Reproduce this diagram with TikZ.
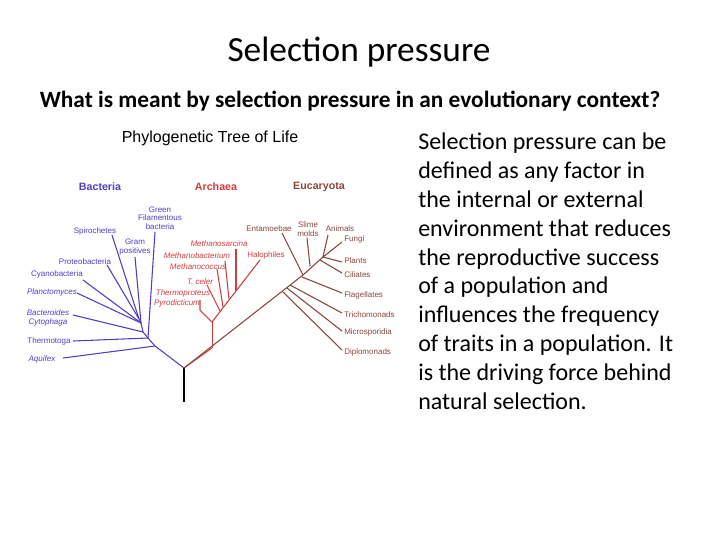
\documentclass[tikz,border=0pt]{standalone}
\usepackage{fontspec}
\setmainfont{Carlito}
\newfontfamily\arialf{Liberation Sans}
\begin{document}
\begin{tikzpicture}[x=0.75pt,y=-0.75pt,
  lab/.style={inner sep=0pt,font=\arialf\fontsize{6pt}{6.4pt}\selectfont,align=center},
  bac/.style={draw=bcol,line width=0.8pt},
  arc/.style={draw=acol,line width=0.8pt},
  euk/.style={draw=ecol,line width=0.8pt}]
\definecolor{bcol}{RGB}{80,60,200}
\definecolor{acol}{RGB}{210,60,60}
\definecolor{ecol}{RGB}{135,70,60}
\useasboundingbox (0,0) rectangle (720,540);
\node (title) at (359,52) {\fontsize{26.5pt}{30pt}\selectfont Selection pressure};
\node (sub) at (350,101) {\fontsize{17.5pt}{20pt}\selectfont\bfseries What is meant by selection pressure in an evolutionary context?};
\node[anchor=north west,inner sep=0pt,align=left,font=\fontsize{18pt}{21.6pt}\selectfont] (body) at (418,133) {Selection pressure can be\\defined as any factor in\\the internal or external\\environment that reduces\\the reproductive success\\of a population and\\influences the frequency\\of traits in a population. It\\is the driving force behind\\natural selection.};
% tree title
\node (tt) at (210,138) {\arialf\fontsize{12pt}{14pt}\selectfont Phylogenetic Tree of Life};
\node[text=bcol] (db) at (100,187) {\arialf\bfseries\fontsize{8pt}{9pt}\selectfont Bacteria};
\node[text=acol] (da) at (216,187) {\arialf\bfseries\fontsize{8pt}{9pt}\selectfont Archaea};
\node[text=ecol] (de) at (319,187) {\arialf\bfseries\fontsize{8pt}{9pt}\selectfont Eucaryota};
% coordinates
\coordinate (root) at (184,368); \coordinate (rootb) at (184,402);
\coordinate (b1) at (155,346); \coordinate (b2) at (148,338);
\coordinate (a1) at (212,348); \coordinate (a2) at (212,322); \coordinate (ah) at (260,260);
\coordinate (e1) at (303,275); \coordinate (e2) at (323,257);
\draw[line width=0.8pt] (root) -- (rootb);
% bacteria
\draw[bac] (root) -- (b1) -- (b2);
\coordinate (bq) at (63,358); \draw[bac] (b1) -- (bq);
\coordinate (bt) at (73,341); \draw[bac] (b2) -- (bt);
\coordinate (bbx) at (73,315); \coordinate (bbh) at (143,332); \draw[bac] (b2) -- (bbh) -- (bbx);
\coordinate (bp) at (77,293); \coordinate (bph) at (141,323); \draw[bac] (bbh) -- (bph) -- (bp);
\coordinate (bc) at (83,280); \draw[bac] (bph) -- (bc);
\coordinate (bpr) at (107,265); \coordinate (bprh) at (139,319); \draw[bac] (bph) -- (bprh) -- (bpr);
\coordinate (bs) at (112,235); \draw[bac] (bprh) -- (bs);
\coordinate (bg) at (135,257); \draw[bac] (bph) -- (bg);
\coordinate (bgf) at (155,232); \draw[bac] (b2) -- (bgf);
\node[lab,text=bcol] (lbs) at (95,231) {Spirochetes};
\node[lab,text=bcol] (lbgf) at (160,218) {Green\\Filamentous\\bacteria};
\node[lab,text=bcol] (lbg) at (135,247) {Gram\\positives};
\node[lab,text=bcol] (lbpr) at (85,262) {Proteobacteria};
\node[lab,text=bcol] (lbc) at (57,274) {Cyanobacteria};
\node[lab,text=bcol] (lbp) at (52,292) {\itshape Planctomyces};
\node[lab,text=bcol] (lbb) at (48,318) {\itshape Bacteroides\\\itshape Cytophaga};
\node[lab,text=bcol] (lbt) at (49,341) {Thermotoga};
\node[lab,text=bcol] (lbq) at (42,359) {\itshape Aquifex};
% archaea
\draw[arc] (root) -- (a1);
\draw[acol,line width=0.5pt] (a1) -- (a2);
\coordinate (ap) at (200,310); \coordinate (apt) at (200,300); \draw[arc] (a2) -- (ap) -- (apt);
\draw[arc] (a2) -- (ah);
\coordinate (atc0) at (220,311); \coordinate (atc) at (207,285); \draw[arc] (atc0) -- (atc);
\coordinate (amc0) at (223,307); \coordinate (amc) at (217,269); \draw[arc] (amc0) -- (amc);
\coordinate (amb0) at (229,299); \coordinate (amb) at (225,261); \draw[arc] (amb0) -- (amb);
\coordinate (ams0) at (236,291); \coordinate (ams) at (236,249); \draw[arc] (ams0) -- (ams);
\node[lab,text=acol] (las) at (219,244) {\itshape Methanosarcina};
\node[lab,text=acol] (lab1) at (197,256) {\itshape Methanobacterium};
\node[lab,text=acol] (lac) at (198,267) {\itshape Methanococcus};
\node[lab,text=acol] (lat) at (200,282) {\itshape T. celer};
\node[lab,text=acol] (latp) at (183,293) {\itshape Thermoproteus};
\node[lab,text=acol] (lapy) at (177,303) {\itshape Pyrodicticum};
\node[lab,text=acol] (lah) at (266,255) {Halophiles};
% eukaryota
\draw[euk] (root) -- (e1) -- (e2);
\coordinate (ed0) at (283,292); \coordinate (ed) at (342,350); \draw[euk] (ed0) -- (ed);
\coordinate (em0) at (287,288); \coordinate (em) at (342,331); \draw[euk] (em0) -- (em);
\coordinate (etr0) at (290,285); \coordinate (etr) at (342,313); \draw[euk] (etr0) -- (etr);
\coordinate (ef0) at (302,277); \coordinate (ef) at (342,293); \draw[euk] (ef0) -- (ef);
\coordinate (ec0) at (320,260); \coordinate (ec) at (342,273); \draw[euk] (ec0) -- (ec);
\coordinate (epl) at (342,262); \draw[euk] (e2) -- (epl);
\coordinate (efu) at (342,242); \draw[euk] (e2) -- (efu);
\coordinate (ean) at (328,235); \draw[euk] (e2) -- (ean);
\coordinate (es0) at (310,266); \coordinate (esm) at (307,238); \draw[euk] (es0) -- (esm);
\coordinate (een) at (282,233); \draw[euk] (e1) -- (een);
\node[lab,text=ecol] (len) at (269,229) {Entamoebae};
\node[lab,text=ecol] (lsm) at (308,229) {Slime\\molds};
\node[lab,text=ecol] (lan) at (340,229) {Animals};
\node[lab,text=ecol,anchor=west] (lfu) at (344,239) {Fungi};
\node[lab,text=ecol,anchor=west] (lpl) at (344,261) {Plants};
\node[lab,text=ecol,anchor=west] (lci) at (344,275) {Ciliates};
\node[lab,text=ecol,anchor=west] (lfl) at (344,295) {Flagellates};
\node[lab,text=ecol,anchor=west] (ltr) at (344,315) {Trichomonads};
\node[lab,text=ecol,anchor=west] (lmi) at (344,332) {Microsporidia};
\node[lab,text=ecol,anchor=west] (ldi) at (344,352) {Diplomonads};
\end{tikzpicture}
\end{document}
